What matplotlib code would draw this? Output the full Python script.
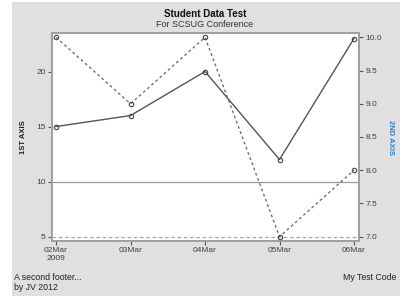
import matplotlib
matplotlib.use("Agg")
import matplotlib.pyplot as plt
from matplotlib.patches import Rectangle

plt.rcParams['font.family'] = ['Liberation Sans', 'DejaVu Sans']

dates = ["02Mar\n2009", "03Mar", "04Mar", "05Mar", "06Mar"]
first_axis = [15, 16, 20, 12, 23]
second_axis = [10.0, 9.0, 10.0, 7.0, 8.0]
left_ticks = [5, 10, 15, 20]
right_ticks = [7.0, 7.5, 8.0, 8.5, 9.0, 9.5, 10.0]
ref_left = 10
ref_right = 7.0

W, H = 405, 296
fig = plt.figure(figsize=(W / 100, H / 100), dpi=100, facecolor='white')
fig.patches.append(Rectangle((12 / W, 0), (400 - 12) / W, (H - 2) / H,
                             transform=fig.transFigure, facecolor='#e0e0e0',
                             edgecolor='none', zorder=-10))

ax = fig.add_axes([52 / W, 1 - 241 / H, (359 - 52) / W, (241 - 33) / H])
ax.set_facecolor('white')
x = list(range(len(dates)))

ax.axhline(ref_left, color='#9a9a9a', lw=0.9, zorder=1)
ax.plot(x, first_axis, color='#555555', lw=1.0, marker='o', ms=3.2,
        mfc='none', mec='#444444', mew=0.8, zorder=3)
ax.set_xlim(-0.054, 4.067)
ax.set_ylim(4.6, 23.5)
ax.set_yticks(left_ticks)
ax.set_xticks(x)
ax.set_xticklabels(dates)

ax2 = ax.twinx()
ax2.axhline(ref_right, color='#a8a8a8', lw=0.9, ls=(0, (3, 2)), zorder=1)
ax2.plot(x, second_axis, color='#707070', lw=1.0, ls=(0, (2, 2)),
         marker='o', ms=3.2, mfc='none', mec='#444444', mew=0.8, zorder=3)
ax2.set_ylim(6.935, 10.065)
ax2.set_yticks(right_ticks)
ax2.set_yticklabels([f"{v:.1f}" for v in right_ticks])

for a in (ax, ax2):
    for s in a.spines.values():
        s.set_color('#a0a0a0')
        s.set_linewidth(1.3)
    a.tick_params(axis='both', labelsize=6, colors='#555555', length=3,
                  width=0.8, pad=1.5, labelcolor='#404040')

ax.set_ylabel('1ST AXIS', fontsize=5.5, fontweight='bold', color='#222222', labelpad=7)
ax2.set_ylabel('2ND AXIS', fontsize=5.5, fontweight='bold', color='#2a7fd4',
               rotation=270, labelpad=9)

fig.text(205 / W, 1 - 14 / H, 'Student Data Test', ha='center', va='center',
         fontsize=7, fontweight='bold', color='#111111')
fig.text(205 / W, 1 - 24.5 / H, 'For SCSUG Conference', ha='center', va='center',
         fontsize=6.5, color='#333333')
fig.text(14 / W, 1 - 277 / H, 'A second footer...', ha='left', va='center',
         fontsize=6.3, color='#222222')
fig.text(14 / W, 1 - 287 / H, 'by JV 2012', ha='left', va='center',
         fontsize=6.3, color='#222222')
fig.text(396 / W, 1 - 277 / H, 'My Test Code', ha='right', va='center',
         fontsize=6.3, color='#222222')

fig.savefig('out.png', dpi=100, facecolor='white')
